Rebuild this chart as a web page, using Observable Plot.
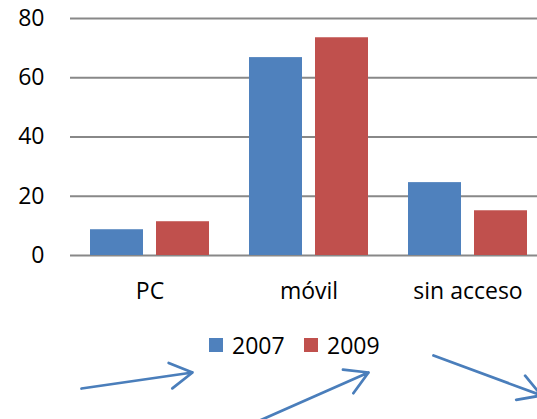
<!DOCTYPE html>
<html>
<head>
<meta charset="utf-8">
<script src="https://cdn.jsdelivr.net/npm/d3@7"></script>
<script src="https://cdn.jsdelivr.net/npm/@observablehq/plot@0.6"></script>
<style>
  html, body { margin: 0; padding: 0; background: #fff; overflow: hidden; }
  #wrap { position: relative; width: 537px; height: 419px; overflow: hidden; font-family: "Open Sans", sans-serif; }
  #chart, #overlay { position: absolute; left: 0; top: 0; }
  #chart svg, #overlay svg { max-width: none !important; }
  #legend { position: absolute; left: 209px; top: 329px; display: flex; font-size: 23px; color: #000; }
  .item { display: flex; align-items: center; width: 95px; }
  .sw { width: 14px; height: 14px; margin-right: 9px; }
</style>
</head>
<body>
<div id="wrap">
  <div id="chart"></div>
  <div id="legend"></div>
  <div id="overlay"></div>
</div>
<script>
const categories = ["PC", "móvil", "sin acceso"];
const years = ["2007", "2009"];
const values2007 = [8.7, 66.8, 24.6];
const values2009 = [11.4, 73.5, 15.1];
const yTicks = [0, 20, 40, 60, 80];
const colors = ["#4F81BD", "#C0504D"];

// decorative arrows drawn under the legend in the reference (pixel positions)
const arrowStarts = [[81, 388], [257, 421], [433, 355]];
const arrowEnds = [[192, 372], [368, 372], [541, 395]];

const data = [];
categories.forEach((c, i) => {
  data.push({cat: c, year: years[0], value: values2007[i]});
  data.push({cat: c, year: years[1], value: values2009[i]});
});

const chart = Plot.plot({
  width: 547,
  height: 419,
  marginLeft: 70,
  marginRight: 0,
  marginTop: 18,
  marginBottom: 164,
  style: {fontFamily: "Open Sans, sans-serif", fontSize: "23px", color: "#000", background: "transparent", overflow: "hidden", maxWidth: "none"},
  fx: {domain: categories, padding: 0, axis: "bottom", label: null, tickSize: 0, tickPadding: 27},
  x: {domain: years, axis: null, paddingInner: 0.197, paddingOuter: 0.303},
  y: {domain: [0, 80], ticks: yTicks, tickSize: 0, tickPadding: 26, label: null},
  color: {domain: years, range: colors},
  marks: [
    Plot.ruleY(yTicks, {stroke: "#888", strokeWidth: 2}),
    Plot.barY(data, {fx: "cat", x: "year", y: "value", fill: "year"})
  ]
});
document.getElementById("chart").appendChild(chart);

const legend = document.getElementById("legend");
years.forEach((y, i) => {
  const it = document.createElement("div");
  it.className = "item";
  const sw = document.createElement("div");
  sw.className = "sw";
  sw.style.background = colors[i];
  const t = document.createElement("span");
  t.textContent = y;
  it.appendChild(sw);
  it.appendChild(t);
  legend.appendChild(it);
});

const arrows = arrowStarts.map((s, i) => ({x1: s[0], y1: s[1], x2: arrowEnds[i][0], y2: arrowEnds[i][1]}));
const overlay = Plot.plot({
  width: 537,
  height: 419,
  margin: 0,
  x: {type: "identity", axis: null},
  y: {type: "identity", axis: null},
  style: {background: "transparent", maxWidth: "none"},
  marks: [
    Plot.arrow(arrows, {x1: "x1", y1: "y1", x2: "x2", y2: "y2", stroke: "#4A7EBB", strokeWidth: 2.75, headLength: 14, headAngle: 60})
  ]
});
document.getElementById("overlay").appendChild(overlay);
</script>
</body>
</html>
